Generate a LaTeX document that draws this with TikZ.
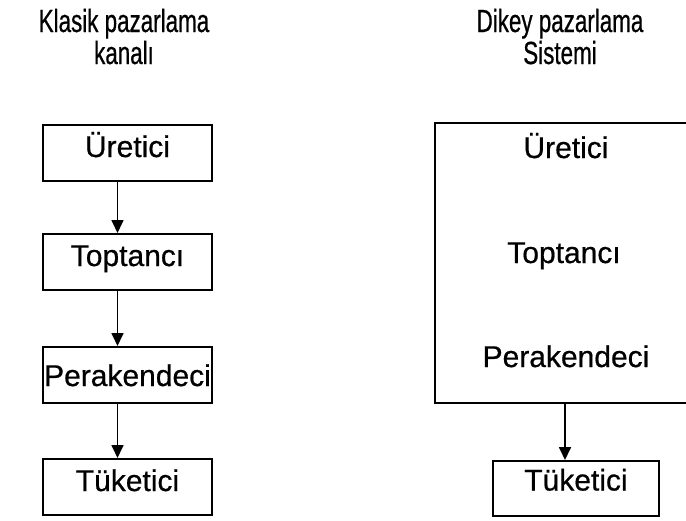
\documentclass[tikz,border=0pt]{standalone}
\usepackage{fontspec}
\setmainfont[FakeBold=0.6]{Liberation Sans}
\newfontfamily\titlefont[FakeStretch=0.7,FakeBold=0.6]{Liberation Sans}
\usetikzlibrary{arrows.meta}
\begin{document}
\begin{tikzpicture}[x=1pt,y=-1pt,
  line width=2pt,
  heading/.style={font=\titlefont\fontsize{32}{32}\selectfont, anchor=base, inner sep=0pt},
  stage/.style={draw, inner sep=0pt, minimum width=169pt, minimum height=56pt,
    font=\fontsize{30}{32}\selectfont, text height=14pt, text depth=6pt},
  member/.style={font=\fontsize{30}{32}\selectfont, anchor=base, inner sep=0pt},
  flow/.style={-{Triangle[length=13pt,width=12pt]}, line width=1.7pt}]
\useasboundingbox (0,0) rectangle (686,520);

% column headings, two lines each
\node[heading] (h1a) at (124,32) {Klasik pazarlama};
\node[heading] (h1b) at (124,64) {kanalı};
\node[heading] (h2a) at (560,32) {Dikey pazarlama};
\node[heading] (h2b) at (560,64) {Sistemi};

% classic channel: four separate stages
\node[stage] (u1) at (127.5,153) {Üretici};
\node[stage] (t1) at (127.5,262) {Toptancı};
\node[stage, text height=22pt, text depth=0pt] (p1) at (127.5,375) {Perakendeci};
\node[stage] (k1) at (127.5,487) {Tüketici};

\draw[flow] ([xshift=-10pt]u1.south) -- ([xshift=-10pt]t1.north);
\draw[flow] ([xshift=-10pt]t1.south) -- ([xshift=-10pt]p1.north);
\draw[flow] ([xshift=-10pt]p1.south) -- ([xshift=-10pt]k1.north);

% vertical system: one block holding three members
\node[draw, inner sep=0pt, minimum width=266pt, minimum height=280pt] (sys) at (568,263) {};
\node[member] (u2) at (566,158) {Üretici};
\node[member] (t2) at (564,263) {Toptancı};
\node[member] (p2) at (566,367) {Perakendeci};

\node[stage, minimum width=166pt, minimum height=55pt, text height=10pt, text depth=6pt] (k2) at (576,488.5) {Tüketici};
\draw[flow] ([xshift=-3pt]sys.south) -- ([xshift=-3pt]sys.south |- k2.north);
\end{tikzpicture}
\end{document}
